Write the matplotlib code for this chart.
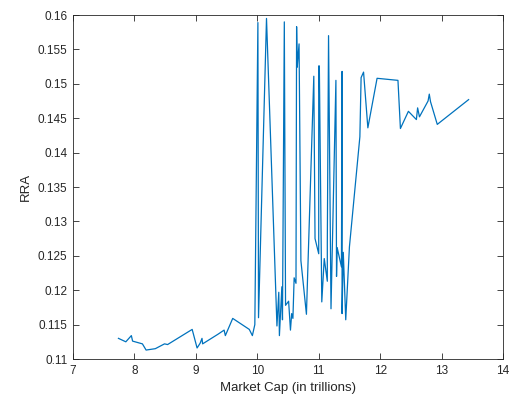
import matplotlib
matplotlib.use('Agg')
import matplotlib.pyplot as plt
from matplotlib.ticker import FormatStrFormatter, MultipleLocator

# market cap (trillions) vs RRA
market_cap = [7.74, 7.86, 7.95, 7.97, 8.13, 8.19, 8.34, 8.49, 8.54, 8.94,
              9.02, 9.07, 9.10, 9.11, 9.36, 9.46, 9.48, 9.60, 9.87, 9.92,
              9.96, 10.01, 10.02, 10.15, 10.32, 10.35, 10.36, 10.40, 10.41, 10.44,
              10.46, 10.51, 10.54, 10.56, 10.58, 10.60, 10.63, 10.64, 10.65, 10.68,
              10.71, 10.80, 10.92, 10.94, 11.00, 11.00, 11.01, 11.05, 11.09, 11.14,
              11.14, 11.16, 11.20, 11.28, 11.29, 11.30, 11.37, 11.38, 11.38, 11.40,
              11.44, 11.50, 11.67, 11.69, 11.73, 11.80, 11.95, 12.29, 12.33, 12.46,
              12.59, 12.61, 12.64, 12.78, 12.80, 12.82, 12.93, 13.44]
rra = [0.1130, 0.1125, 0.1134, 0.1126, 0.1122, 0.1113, 0.1115, 0.1122, 0.1121, 0.1143,
       0.1116, 0.1123, 0.1130, 0.1122, 0.1136, 0.1142, 0.1134, 0.1159, 0.1143, 0.1134,
       0.1150, 0.1589, 0.1160, 0.1595, 0.1148, 0.1197, 0.1134, 0.1205, 0.1157, 0.1590,
       0.1178, 0.1184, 0.1142, 0.1166, 0.1159, 0.1218, 0.1210, 0.1583, 0.1524, 0.1558,
       0.1243, 0.1165, 0.1511, 0.1275, 0.1253, 0.1526, 0.1526, 0.1183, 0.1246, 0.1213,
       0.1269, 0.1570, 0.1173, 0.1505, 0.1220, 0.1262, 0.1234, 0.1518, 0.1166, 0.1255,
       0.1157, 0.1263, 0.1423, 0.1509, 0.1517, 0.1436, 0.1508, 0.1505, 0.1435, 0.1460,
       0.1448, 0.1465, 0.1452, 0.1475, 0.1485, 0.1474, 0.1441, 0.1477]

plt.rcParams['font.family'] = ['Liberation Sans', 'DejaVu Sans']
gray = '#262626'

fig = plt.figure(figsize=(5.3, 4.05), dpi=100)
ax = fig.add_axes([73/530, 1 - 359/405, 430/530, 344/405])
ax.plot(market_cap, rra, color='#0072BD', linewidth=0.9)

ax.set_xlim(7, 14)
ax.set_ylim(0.11, 0.16)
ax.xaxis.set_major_locator(MultipleLocator(1))
ax.yaxis.set_major_locator(MultipleLocator(0.005))
ax.yaxis.set_major_formatter(FormatStrFormatter('%g'))
ax.tick_params(direction='in', top=True, right=True, length=4, width=0.6,
               colors=gray, labelsize=8.5, pad=4)
for s in ax.spines.values():
    s.set_color(gray)
    s.set_linewidth(0.6)

ax.set_xlabel('Market Cap (in trillions)', fontsize=9.5, color=gray)
ax.set_ylabel('RRA', fontsize=9.5, color=gray)

plt.savefig('out.png', dpi=100)
